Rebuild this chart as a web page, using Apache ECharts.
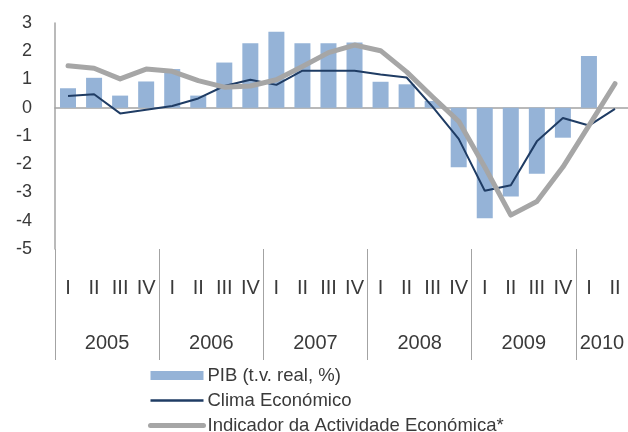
<!DOCTYPE html>
<html>
<head>
<meta charset="utf-8">
<script src="https://cdn.jsdelivr.net/npm/echarts@6/dist/echarts.min.js"></script>
<style>
html,body{margin:0;padding:0;background:#fff;}
#chart{width:628px;height:432px;}
</style>
</head>
<body>
<div id="chart"></div>
<script>
// ---- data ----
const quarters = ['I','II','III','IV','I','II','III','IV','I','II','III','IV','I','II','III','IV','I','II','III','IV','I','II'];
const years = ['2005','2006','2007','2008','2009','2010'];
const quartersPerYear = [4,4,4,4,4,2];
const pib   = [0.69, 1.06, 0.43, 0.93, 1.37, 0.43, 1.6, 2.28, 2.69, 2.28, 2.28, 2.31, 0.92, 0.83, 0.24, -2.11, -3.91, -3.14, -2.34, -1.06, 1.83, null];
const clima = [0.42, 0.48, -0.2, -0.07, 0.06, 0.33, 0.77, 0.99, 0.81, 1.31, 1.31, 1.31, 1.18, 1.07, 0.03, -1.1, -2.94, -2.74, -1.19, -0.36, -0.63, -0.04];
const indic = [1.49, 1.40, 1.02, 1.37, 1.29, 0.96, 0.73, 0.77, 0.99, 1.46, 1.95, 2.22, 2.02, 1.27, 0.38, -0.48, -2.1, -3.8, -3.32, -2.1, -0.63, 0.85];
const yTicks = {min: -5, max: 3, interval: 1};
const seriesNames = ['PIB (t.v. real, %)', 'Clima Económico', 'Indicador da Actividade Económica*'];

// year group boundaries & centers derived from quarter counts
const boundaries = [0];
const centers = [];
quartersPerYear.forEach((n) => {
  const start = boundaries[boundaries.length - 1];
  centers.push(start + n / 2);
  boundaries.push(start + n);
});
const totalQ = boundaries[boundaries.length - 1];

const FONT = 'Liberation Sans, Arial, sans-serif';
const AXIS_GREY = '#a3a3a3';
const TEXT = '#3a3a3a';
const BAR_C = '#95b3d7', CLIMA_C = '#1f3c64', IND_C = '#a6a6a6';

const chart = echarts.init(document.getElementById('chart'), null, {renderer: 'canvas'});
chart.setOption({
  animation: false,
  backgroundColor: '#fff',
  textStyle: {fontFamily: FONT},
  grid: {left: 55, top: 23, width: 574, height: 226, containLabel: false},
  legend: {
    orient: 'vertical',
    left: 148,
    top: 366,
    height: 120,
    itemWidth: 53,
    itemHeight: 9,
    itemGap: 6,
    padding: 0,
    textStyle: {fontFamily: FONT, fontSize: 18.5, color: TEXT, padding: [0,0,0,-1]},
    data: [
      {name: seriesNames[0], icon: 'rect'},
      {name: seriesNames[1], itemStyle: {opacity: 0}, lineStyle: {color: CLIMA_C, width: 2.5}},
      {name: seriesNames[2], itemStyle: {opacity: 0}, lineStyle: {color: IND_C, width: 5}}
    ]
  },
  xAxis: [
    {
      type: 'category', data: quarters, gridIndex: 0,
      boundaryGap: true,
      axisLine: {show: true, onZero: true, lineStyle: {color: AXIS_GREY, width: 1.5}},
      axisTick: {show: false}, axisLabel: {show: false}, splitLine: {show: false}
    },
    {
      type: 'category', data: quarters, gridIndex: 0, position: 'bottom',
      boundaryGap: true,
      axisLine: {show: false, onZero: false},
      axisTick: {show: false},
      axisLabel: {show: true, interval: 0, margin: 29, fontFamily: FONT, fontSize: 20, color: TEXT},
      splitLine: {show: false}
    },
    {
      type: 'value', gridIndex: 0, position: 'bottom', min: 0, max: totalQ,
      axisLine: {show: false, onZero: false},
      axisTick: {show: true, length: 111, inside: false, customValues: boundaries.slice(0, -1),
                 lineStyle: {color: AXIS_GREY, width: 1}},
      axisLabel: {show: true, margin: 84, fontFamily: FONT, fontSize: 20, color: TEXT,
                  customValues: centers,
                  formatter: (v) => { const i = centers.indexOf(v); return i >= 0 ? years[i] : ''; }},
      splitLine: {show: false}
    }
  ],
  yAxis: {
    type: 'value', min: yTicks.min, max: yTicks.max, interval: yTicks.interval,
    axisLine: {show: true, lineStyle: {color: AXIS_GREY, width: 1.5}},
    axisTick: {show: false},
    splitLine: {show: false},
    axisLabel: {margin: 23, fontFamily: FONT, fontSize: 18, color: TEXT}
  },
  series: [
    {
      name: seriesNames[0], type: 'bar', xAxisIndex: 0, data: pib,
      barWidth: 16,
      itemStyle: {color: BAR_C}
    },
    {
      name: seriesNames[1], type: 'line', xAxisIndex: 0, data: clima,
      symbol: 'none',
      lineStyle: {color: CLIMA_C, width: 2},
      itemStyle: {color: CLIMA_C}
    },
    {
      name: seriesNames[2], type: 'line', xAxisIndex: 0, data: indic,
      symbol: 'none',
      lineStyle: {color: IND_C, width: 5, join: 'round', cap: 'round'},
      itemStyle: {color: IND_C}
    }
  ]
});
</script>
</body>
</html>
